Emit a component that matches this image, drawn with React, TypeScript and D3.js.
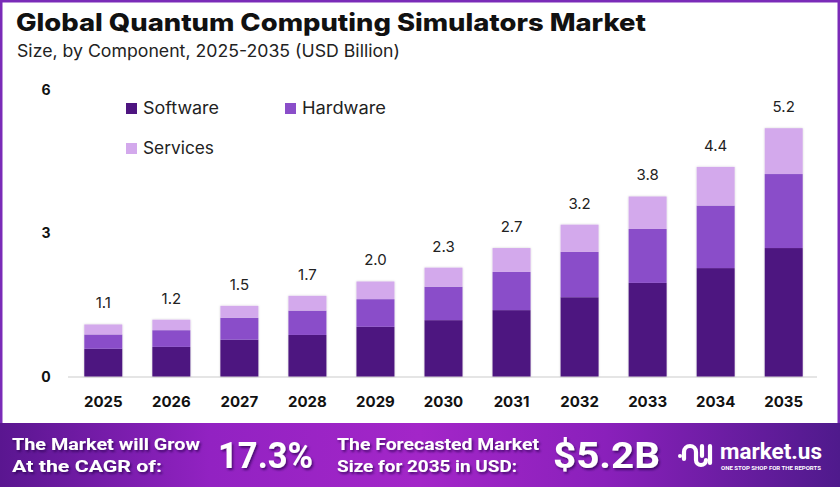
import React from "react";
import * as d3 from "d3";

const years = ["2025","2026","2027","2028","2029","2030","2031","2032","2033","2034","2035"];
const software = [0.58,0.62,0.77,0.87,1.04,1.18,1.39,1.66,1.96,2.27,2.69];
const hardware = [0.30,0.35,0.46,0.51,0.58,0.70,0.80,0.95,1.13,1.31,1.55];
const services = [0.21,0.22,0.25,0.31,0.37,0.40,0.50,0.57,0.68,0.81,0.96];
const totalLabels = ["1.1","1.2","1.5","1.7","2.0","2.3","2.7","3.2","3.8","4.4","5.2"];
const yTicks = [0, 3, 6];
const seriesNames = ["Software", "Hardware", "Services"];
const colors = ["#4e1580", "#8a4ec9", "#d3a9ec"];

const W = 840, H = 487;
const FONT = "Inter, 'Open Sans', sans-serif";

export default function App() {
  const x = d3.scalePoint<string>().domain(years).range([103.3, 783.7]);
  const y = d3.scaleLinear().domain([0, 6]).range([376.5, 90]);
  const bw = 38;

  const table = years.map((yr, i) => ({ year: yr, Software: software[i], Hardware: hardware[i], Services: services[i] }));
  const stack = d3.stack<any>().keys(seriesNames)(table);

  return (
    <svg width={W} height={H} style={{ position: "absolute", left: 0, top: 0, display: "block" }} fontFamily={FONT}>
      <defs>
        <linearGradient id="foot" x1="0" x2="1" y1="0" y2="0">
          <stop offset="0" stopColor="#5a1690" />
          <stop offset="0.25" stopColor="#9222c2" />
          <stop offset="0.5" stopColor="#a326c8" />
          <stop offset="0.72" stopColor="#8a20bb" />
          <stop offset="1" stopColor="#4f1a8c" />
        </linearGradient>
        <filter id="ts" x="-10%" y="-30%" width="130%" height="160%">
          <feDropShadow dx="1.5" dy="2" stdDeviation="1.2" floodColor="#2a0650" floodOpacity="0.7" />
        </filter>
        <filter id="bs" x="-20%" y="-10%" width="140%" height="120%">
          <feDropShadow dx="0" dy="0" stdDeviation="1.2" floodColor="#000" floodOpacity="0.18" />
        </filter>
      </defs>
      {/* frame */}
      <rect x={0} y={0} width={W} height={H} fill="#7a2bb8" />
      <rect x={2.5} y={2.5} width={W - 5} height={421} fill="#ffffff" />
      <rect x={0} y={423} width={W} height={H - 423} fill="url(#foot)" />

      {/* titles */}
      <text x={16} y={31} fontSize={24} fontWeight={800} fill="#111" textLength={630} lengthAdjust="spacingAndGlyphs">
        Global Quantum Computing Simulators Market
      </text>
      <text x={17} y={57} fontSize={17} fontWeight={400} fill="#222" textLength={383} lengthAdjust="spacingAndGlyphs">
        Size, by Component, 2025-2035 (USD Billion)
      </text>

      {/* legend */}
      {[
        { name: "Software", c: colors[0], lx: 126, ly: 103, tl: 76 },
        { name: "Hardware", c: colors[1], lx: 285, ly: 103, tl: 84 },
        { name: "Services", c: colors[2], lx: 126, ly: 143, tl: 71 },
      ].map((l) => (
        <g key={l.name}>
          <rect x={l.lx} y={l.ly} width={11} height={11} fill={l.c} />
          <text x={l.lx + 17} y={l.ly + 10.5} fontSize={17} fill="#222" textLength={l.tl} lengthAdjust="spacingAndGlyphs">{l.name}</text>
        </g>
      ))}

      {/* y ticks */}
      {yTicks.map((t) => (
        <text key={t} x={46} y={y(t) + 5} fontSize={14} fontWeight={700} fill="#111" textAnchor="middle">{t}</text>
      ))}

      {/* axis line */}
      <line x1={68} x2={817} y1={y(0) + 0.5} y2={y(0) + 0.5} stroke="#dcdcdc" strokeWidth={1.5} />

      {/* bars */}
      <g filter="url(#bs)">
        {stack.map((s, si) =>
          s.map((d, i) => (
            <rect key={si + "-" + i} x={(x(years[i]) as number) - bw / 2} y={y(d[1])} width={bw}
              height={y(d[0]) - y(d[1])} fill={colors[si]} />
          ))
        )}
      </g>

      {/* total labels */}
      {years.map((yr, i) => (
        <text key={yr} x={x(yr)} y={y(software[i] + hardware[i] + services[i]) - 16} fontSize={15} fill="#222" textAnchor="middle">
          {totalLabels[i]}
        </text>
      ))}

      {/* year labels */}
      {years.map((yr) => (
        <text key={yr} x={x(yr)} y={407} fontSize={15} fontWeight={700} fill="#111" textAnchor="middle">{yr}</text>
      ))}

      {/* footer */}
      <g fill="#fff" fontWeight={700} filter="url(#ts)" fontFamily="Roboto, Inter, sans-serif">
        <text x={12} y={450} fontSize={17} textLength={188} lengthAdjust="spacingAndGlyphs">The Market will Grow</text>
        <text x={12} y={472} fontSize={17} textLength={150} lengthAdjust="spacingAndGlyphs">At the CAGR of:</text>
        <text x={218} y={468} fontSize={36} textLength={95} lengthAdjust="spacingAndGlyphs">17.3%</text>
        <text x={337} y={450} fontSize={17} textLength={202} lengthAdjust="spacingAndGlyphs">The Forecasted Market</text>
        <text x={337} y={472} fontSize={17} textLength={180} lengthAdjust="spacingAndGlyphs">Size for 2035 in USD:</text>
        <text x={553} y={468} fontSize={36} textLength={107} lengthAdjust="spacingAndGlyphs">$5.2B</text>
      </g>
      {/* logo */}
      <g stroke="#fff" strokeWidth={4.2} fill="none" strokeLinecap="round">
        <circle cx={680} cy={456} r={2} fill="#fff" stroke="none" />
        <path d="M684 459 L684 452 A6 6 0 0 1 696 452 L696 460 A5 5 0 0 0 706 460" />
        <line x1={702} y1={446} x2={702} y2={456} />
        <line x1={710} y1={446} x2={710} y2={463} />
      </g>
      <text x={720} y={459} fontSize={22} fontWeight={700} fill="#fff" textLength={102} lengthAdjust="spacingAndGlyphs" fontFamily="Roboto, Inter, sans-serif">market.us</text>
      <text x={721} y={470} fontSize={4.6} fontWeight={700} fill="#fff" textLength={100} lengthAdjust="spacingAndGlyphs" fontFamily="Roboto, sans-serif">ONE STOP SHOP FOR THE REPORTS</text>
    </svg>
  );
}
